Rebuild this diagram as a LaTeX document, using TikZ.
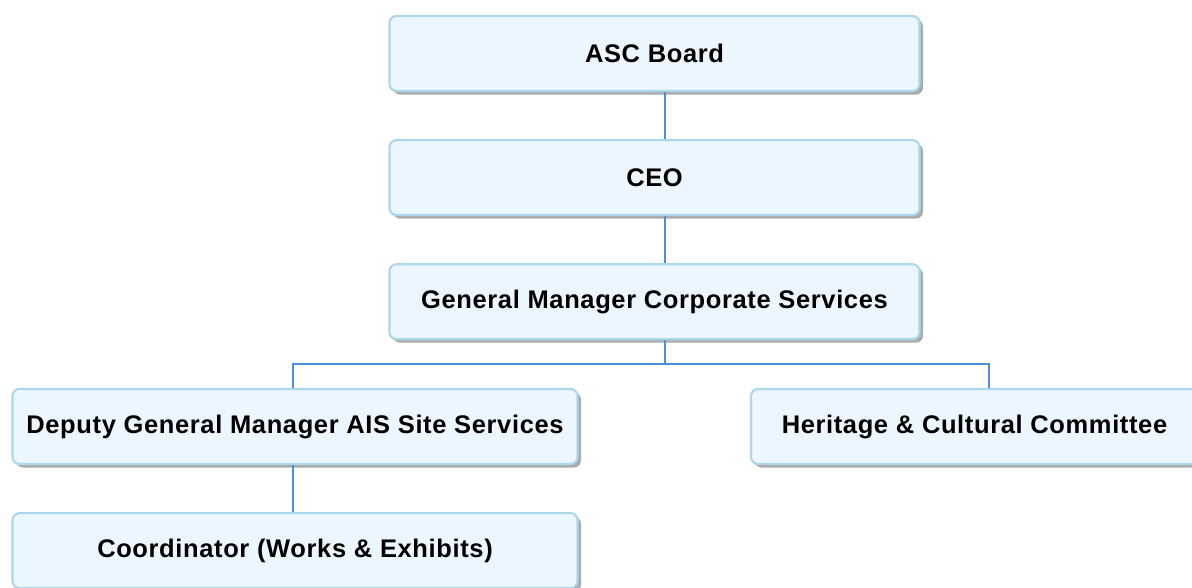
\documentclass[tikz,border=0pt]{standalone}
\usepackage{fontspec}
\setmainfont{Liberation Sans}[LetterSpace=2.5]
\usepackage{tikz}
\usetikzlibrary{positioning, calc, shadows}
\definecolor{boxfill}{RGB}{236, 246, 255}
\definecolor{boxline}{RGB}{172, 214, 234}
\definecolor{linkblue}{RGB}{74, 144, 226}

\begin{document}
\begin{tikzpicture}[
    orgbox/.style={draw=boxline, line width=1.2pt, fill=boxfill, rounded corners=0.14cm,
        minimum height=1.5cm, font=\fontsize{14.5}{17}\selectfont\bfseries,
        drop shadow={shadow xshift=0.07cm, shadow yshift=-0.07cm, fill=black!55, opacity=0.6}},
    link/.style={draw=linkblue, line width=1pt}
]
    \useasboundingbox (0,0) rectangle (23.84,-11.74);

    \node[orgbox, minimum width=10.6cm] (board) at (13.09,-1.07) {ASC Board};
    \node[orgbox, minimum width=10.6cm, below=0.94cm of board] (ceo) {CEO};
    \node[orgbox, minimum width=10.6cm, below=0.94cm of ceo] (gmcorp) {General Manager Corporate Services};

    \node[orgbox, minimum width=11.3cm] (deputy) at (5.9,-8.53) {Deputy General Manager AIS Site Services};
    \node[orgbox, minimum width=8.94cm] (heritage) at (19.49,-8.53) {Heritage \& Cultural Committee};
    \node[orgbox, minimum width=11.3cm, below=0.94cm of deputy] (coord) {Coordinator (Works \& Exhibits)};

    \draw[link] ([xshift=0.21cm]board.south) -- ([xshift=0.21cm]ceo.north);
    \draw[link] ([xshift=0.21cm]ceo.south) -- ([xshift=0.21cm]gmcorp.north);
    \draw[link] ([xshift=0.21cm]gmcorp.south) -- ++(0,-0.48) -| ([xshift=-0.04cm]deputy.north);
    \draw[link] ([xshift=0.21cm]gmcorp.south) -- ++(0,-0.48) -| ([xshift=0.29cm]heritage.north);
    \draw[link] ([xshift=-0.04cm]deputy.south) -- ([xshift=-0.04cm]coord.north);
\end{tikzpicture}
\end{document}
